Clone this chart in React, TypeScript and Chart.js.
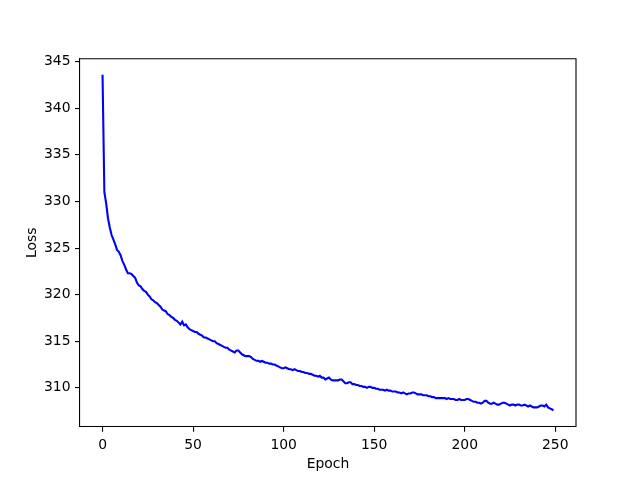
import React, { useEffect, useRef } from "react";
import { Chart, registerables } from "chart.js";

Chart.register(...registerables);

const epochs: number[] = Array.from({ length: 250 }, (_, i) => i);

const loss: number[] = [
  343.6, 331.0, 329.8, 328.2, 327.2, 326.4, 325.9, 325.4, 324.8, 324.6,
  324.2, 323.6, 323.2, 322.7, 322.3, 322.3, 322.2, 322.0, 321.8, 321.3,
  321.0, 320.9, 320.6, 320.4, 320.3, 320.0, 319.8, 319.5, 319.4, 319.2,
  319.1, 318.9, 318.7, 318.4, 318.3, 318.2, 317.9, 317.8, 317.6, 317.5,
  317.3, 317.2, 317.0, 316.8, 317.1, 316.7, 316.8, 316.5, 316.3, 316.2,
  316.1, 316.0, 316.0, 315.8, 315.7, 315.6, 315.4, 315.4, 315.3, 315.2,
  315.1, 315.0, 315.0, 314.8, 314.7, 314.6, 314.5, 314.4, 314.3, 314.3,
  314.1, 314.0, 313.9, 313.8, 314.0, 314.0, 313.8, 313.6, 313.5, 313.4,
  313.4, 313.4, 313.3, 313.1, 313.0, 312.9, 312.9, 312.8, 312.9, 312.8,
  312.7, 312.7, 312.6, 312.6, 312.5, 312.5, 312.4, 312.3, 312.2, 312.1,
  312.1, 312.2, 312.1, 312.0, 312.0, 311.9, 312.0, 311.9, 311.8, 311.8,
  311.7, 311.7, 311.6, 311.6, 311.5, 311.5, 311.4, 311.3, 311.3, 311.2,
  311.3, 311.1, 311.1, 310.9, 311.0, 311.1, 310.9, 310.8, 310.8, 310.8,
  310.8, 310.9, 310.9, 310.7, 310.5, 310.5, 310.6, 310.6, 310.4, 310.4,
  310.3, 310.3, 310.2, 310.2, 310.1, 310.1, 310.0, 310.1, 310.1, 310.0,
  310.0, 309.9, 309.9, 309.8, 309.8, 309.8, 309.7, 309.8, 309.7, 309.7,
  309.6, 309.6, 309.6, 309.5, 309.5, 309.4, 309.5, 309.4, 309.3, 309.4,
  309.4, 309.5, 309.5, 309.4, 309.3, 309.3, 309.3, 309.2, 309.2, 309.2,
  309.1, 309.1, 309.0, 309.0, 308.9, 308.9, 308.9, 308.9, 308.9, 308.9,
  308.8, 308.9, 308.8, 308.8, 308.8, 308.7, 308.7, 308.8, 308.7, 308.7,
  308.7, 308.8, 308.8, 308.7, 308.6, 308.5, 308.5, 308.4, 308.4, 308.3,
  308.4, 308.6, 308.6, 308.4, 308.3, 308.3, 308.4, 308.3, 308.2, 308.2,
  308.3, 308.4, 308.4, 308.3, 308.2, 308.1, 308.2, 308.2, 308.1, 308.2,
  308.2, 308.1, 308.1, 308.2, 308.1, 308.0, 308.1, 308.0, 307.9, 307.9,
  307.9, 308.0, 308.1, 308.1, 308.0, 308.2, 307.9, 307.8, 307.7, 307.6,
];

const xTicks: number[] = [0, 50, 100, 150, 200, 250];
const yTicks: number[] = [310, 315, 320, 325, 330, 335, 340, 345];

const FONT = { family: "'DejaVu Sans', sans-serif", size: 13.9 };

const framePlugin = {
  id: "frame",
  afterDraw(chart: any) {
    const { ctx, chartArea } = chart;
    ctx.save();
    ctx.strokeStyle = "#000";
    ctx.lineWidth = 1.1;
    ctx.beginPath();
    ctx.moveTo(chartArea.left, chartArea.top);
    ctx.lineTo(chartArea.right, chartArea.top);
    ctx.lineTo(chartArea.right, chartArea.bottom);
    ctx.stroke();
    ctx.restore();
  },
};

export default function App() {
  const ref = useRef<HTMLCanvasElement | null>(null);

  useEffect(() => {
    document.body.style.margin = "0";
    if (!ref.current) return;
    const chart = new Chart(ref.current, {
      type: "line",
      data: {
        datasets: [
          {
            data: epochs.map((e, i) => ({ x: e, y: loss[i] })),
            borderColor: "#0000ff",
            borderWidth: 2.1,
            pointRadius: 0,
            fill: false,
            tension: 0,
          },
        ],
      },
      plugins: [framePlugin],
      options: {
        animation: false,
        responsive: false,
        devicePixelRatio: 1,
        layout: { padding: { top: 58.7, right: 64, left: 0, bottom: 0 } },
        plugins: { legend: { display: false }, tooltip: { enabled: false } },
        scales: {
          x: {
            type: "linear",
            min: -12.45,
            max: 261.45,
            afterBuildTicks: (s: any) => {
              s.ticks = xTicks.map((v) => ({ value: v }));
            },
            afterFit: (s: any) => {
              s.height = 53.3;
            },
            ticks: { font: FONT, color: "#000", padding: 5, autoSkip: false, maxRotation: 0 },
            grid: { display: true, drawOnChartArea: false, drawTicks: true, tickLength: 5, color: "#000", lineWidth: 1.1 },
            border: { display: true, color: "#000", width: 1.1 },
            title: { display: true, text: "Epoch", font: FONT, color: "#000", padding: { top: 0, bottom: 7 } },
          },
          y: {
            type: "linear",
            min: 305.83,
            max: 345.32,
            afterBuildTicks: (s: any) => {
              s.ticks = yTicks.map((v) => ({ value: v }));
            },
            afterFit: (s: any) => {
              s.width = 80;
            },
            ticks: { font: FONT, color: "#000", padding: 4.5, autoSkip: false },
            grid: { display: true, drawOnChartArea: false, drawTicks: true, tickLength: 5, color: "#000", lineWidth: 1.1 },
            border: { display: true, color: "#000", width: 1.1 },
            title: { display: true, text: "Loss", font: FONT, color: "#000", padding: { top: 23.6, bottom: 0 } },
          },
        },
      },
    });
    return () => chart.destroy();
  }, []);

  return (
    <div style={{ position: "absolute", left: 0, top: 0, width: 640, height: 480, background: "#fff" }}>
      <canvas ref={ref} width={640} height={480} />
    </div>
  );
}
